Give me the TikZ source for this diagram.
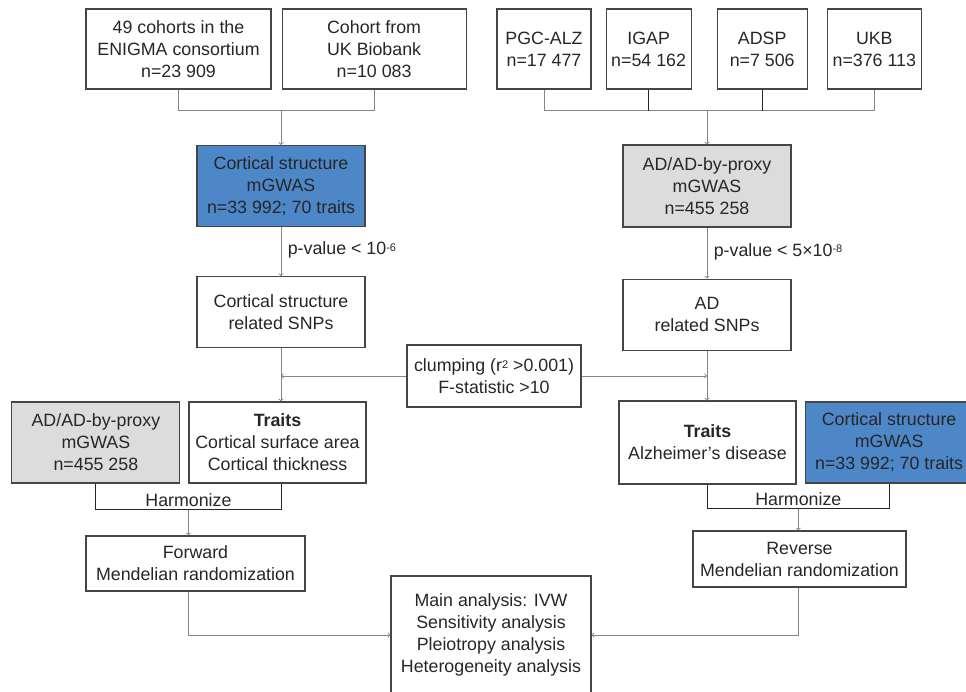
\documentclass[tikz,border=0pt]{standalone}
\usepackage{fontspec}
\setmainfont{Liberation Sans}
\usetikzlibrary{positioning, arrows}

\definecolor{cortblue}{HTML}{4D87C7}
\definecolor{adgray}{HTML}{DCDCDC}
\definecolor{boxline}{HTML}{454545}
\definecolor{linkgray}{HTML}{858585}
\definecolor{inkgray}{HTML}{262626}

\begin{document}
\begin{tikzpicture} [ x=1pt, y=-1pt
                    , font=\fontsize{17.8}{22}\selectfont
                    , text=inkgray
                    , >=to
                    , box/.style={draw=boxline, line width=1.1pt, align=center, inner sep=2pt}
                    , cbox/.style={box, fill=cortblue}
                    , gbox/.style={box, fill=adgray}
                    , link/.style={draw=linkgray, line width=0.9pt}
                    , harm/.style={draw=black!85, line width=0.9pt}
                    ]

  \useasboundingbox (0,0) rectangle (966,692);

  % --- Cortical structure sources --------------------------------------------
  \node [ box
        , minimum width=185pt, minimum height=80pt
        ]
        (ENIGMA) at (178.5,49) {49 cohorts in the\\ENIGMA consortium\\n=23 909};

  \node [ box
        , minimum width=184pt, minimum height=80pt
        , right=10pt of ENIGMA
        ]
        (UKBB) {Cohort from\\UK Biobank\\n=10 083};
  % ---------------------------------------------------------------------------

  % --- AD sources ------------------------------------------------------------
  \node [ box
        , minimum width=94pt, minimum height=80pt
        ]
        (PGC) at (544,49) {PGC-ALZ\\n=17 477};

  \node [ box
        , minimum width=85pt, minimum height=80pt
        , right=14pt of PGC
        ]
        (IGAP) {IGAP\\n=54 162};

  \node [ box
        , minimum width=90pt, minimum height=80pt
        , right=25pt of IGAP
        ]
        (ADSP) {ADSP\\n=7 506};

  \node [ box
        , minimum width=94pt, minimum height=80pt
        , right=19pt of ADSP
        ]
        (UKB) {UKB\\n=376 113};
  % ---------------------------------------------------------------------------

  % --- GWAS and SNPs ---------------------------------------------------------
  \node [ cbox
        , minimum width=168pt, minimum height=81pt
        ]
        (CSG) at (281,186) {Cortical structure\\mGWAS\\n=33 992; 70 traits};

  \node [ box
        , minimum width=168pt, minimum height=71pt
        , below=49pt of CSG
        ]
        (CSNP) {Cortical structure\\related SNPs};

  \node [ gbox
        , minimum width=168pt, minimum height=82pt
        ]
        (ADG) at (707,186) {AD/AD-by-proxy\\mGWAS\\n=455 258};

  \node [ box
        , minimum width=168pt, minimum height=71pt
        , below=51pt of ADG
        ]
        (ADSNP) {AD\\related SNPs};

  \node [ box
        , minimum width=174pt, minimum height=62pt
        ]
        (Clump) at (494,376) {clumping ({r\fontsize{11}{11}\selectfont\raisebox{0.5ex}{2}} >0.001)\\F-statistic >10};
  % ---------------------------------------------------------------------------

  % --- Forward direction -----------------------------------------------------
  \node [ box
        , minimum width=177pt, minimum height=81pt
        ]
        (TraitsL) at (277.5,442.5) {\textbf{Traits}\\Cortical surface area\\Cortical thickness};

  \node [ gbox
        , minimum width=168pt, minimum height=81pt
        , left=8pt of TraitsL
        ]
        (ADGL) {AD/AD-by-proxy\\mGWAS\\n=455 258};

  \node [ box
        , minimum width=219pt, minimum height=55pt
        ]
        (Forward) at (195.5,563.5) {Forward\\Mendelian randomization};
  % ---------------------------------------------------------------------------

  % --- Reverse direction -----------------------------------------------------
  \node [ box
        , minimum width=177pt, minimum height=83pt
        ]
        (TraitsR) at (707.5,442.5) {\textbf{Traits}\\Alzheimer’s disease};

  \node [ cbox
        , minimum width=168pt, minimum height=81pt
        , right=8pt of TraitsR
        ]
        (CSGR) {Cortical structure\\mGWAS\\n=33 992; 70 traits};

  \node [ box
        , minimum width=213pt, minimum height=56pt
        ]
        (Reverse) at (799.5,559) {Reverse\\Mendelian randomization};
  % ---------------------------------------------------------------------------

  \node [ box
        , minimum width=200pt, minimum height=118pt
        ]
        (Main) at (491,635) {Main analysis: IVW\\Sensitivity analysis\\Pleiotropy analysis\\Heterogeneity analysis};

  % --- Connectors ------------------------------------------------------------
  \draw [link] (ENIGMA.south) -- ++(0,21) coordinate (jl) -| (UKBB.south);
  \draw [link, ->] (CSG.north |- jl) -- (CSG.north);

  \draw [link] (PGC.south) -- ++(0,21) coordinate (jr) -| (UKB.south);
  \draw [harm] (IGAP.south) -- (IGAP.south |- jr);
  \draw [harm] (ADSP.south) -- (ADSP.south |- jr);
  \draw [link, ->] (ADG.north |- jr) -- (ADG.north);

  \draw [link, ->] (CSG.south) -- node [right=3pt, pos=0.47] {p-value < 10{\fontsize{11}{11}\selectfont\raisebox{0.6ex}{-6}}} (CSNP.north);
  \draw [link, ->] (ADG.south) -- node [right=3pt, pos=0.47] {p-value < 5×10{\fontsize{11}{11}\selectfont\raisebox{0.6ex}{-8}}} (ADSNP.north);

  \draw [link, ->] (CSNP.south) -- (CSNP.south |- TraitsL.north);
  \draw [link, ->] (ADSNP.south) -- (ADSNP.south |- TraitsR.north);
  \draw [link, ->] (Clump.west) -- (Clump.west -| CSNP.south);
  \draw [link, ->] (Clump.east) -- (Clump.east -| ADSNP.south);

  \draw [harm] (ADGL.south) -- ++(0,26) coordinate (hla)
        -- node [above, inner sep=2.5pt] (HarmL) {Harmonize} (hla -| CSNP.south)
        -- (CSNP.south |- TraitsL.south);
  \draw [link, ->] (HarmL.south |- hla) -- (HarmL.south |- Forward.north);

  \draw [harm] (TraitsR.south) -- ++(0,24) coordinate (hra)
        -- node [above, inner sep=2.5pt] (HarmR) {Harmonize} (hra -| CSGR.south)
        -- (CSGR.south);
  \draw [link, ->] (HarmR.south |- hra) -- (HarmR.south |- Reverse.north);

  \draw [link, ->] (HarmL.south |- Forward.south) |- (Main.west);
  \draw [link, ->] (HarmR.south |- Reverse.south) |- (Main.east);
  % ---------------------------------------------------------------------------
\end{tikzpicture}
\end{document}
